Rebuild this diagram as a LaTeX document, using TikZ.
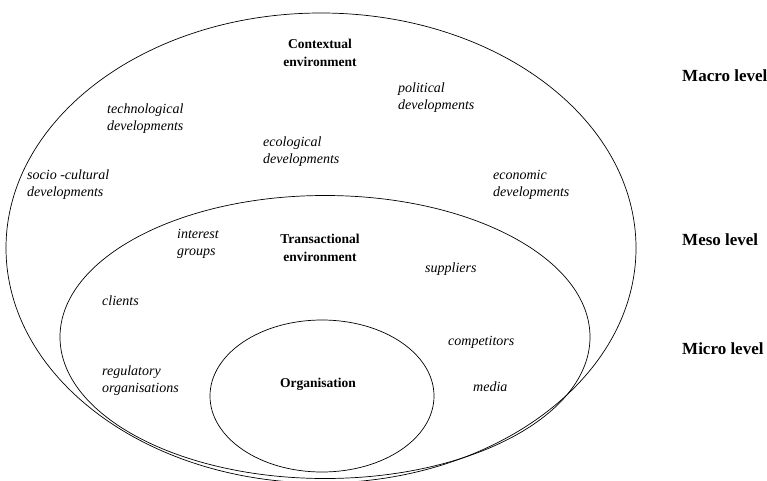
\documentclass[tikz,border=0pt]{standalone}
\usepackage{fontspec}
\setmainfont{Liberation Serif}
\begin{document}
\begin{tikzpicture}[x=1pt,y=-1pt]
    \tikzset{% This is the style settings for nodes
    env/.style={line width=0.7pt},
    factor/.style={anchor=west,align=left,inner sep=0pt,font=\fontsize{14}{17}\selectfont\itshape},
    title/.style={align=center,inner sep=0pt,font=\fontsize{13.5}{18.5}\selectfont\bfseries},
    lvl/.style={anchor=west,inner sep=0pt,font=\fontsize{17}{20}\selectfont\bfseries},
    }
    \useasboundingbox (0,0) rectangle (767,481);
    % Ellipses
    \draw[env] (321,248) ellipse (315 and 235);
    \draw[env] (325,337) ellipse (265 and 141.5);
    \draw[env] (322,396) ellipse (112 and 76);

    % Nodes
    \node[title] (ctx) at (320,53) {Contextual\\environment};
    \node[title] (trn) at (320,248) {Transactional\\environment};
    \node[title] (org) at (318,384) {Organisation};

    \node[factor] (tech) at (107,119) {technological\\developments};
    \node[factor] (eco) at (263,152) {ecological\\developments};
    \node[factor] (soc) at (27,185) {socio -cultural\\developments};
    \node[factor] (pol) at (398,98) {political\\developments};
    \node[factor] (econ) at (493,185) {economic\\developments};

    \node[factor] (intr) at (177,244) {interest\\groups};
    \node[factor] (cli) at (102,301) {clients};
    \node[factor] (reg) at (102,381) {regulatory\\organisations};
    \node[factor] (sup) at (425,269) {suppliers};
    \node[factor] (comp) at (448,342) {competitors};
    \node[factor] (med) at (473,387) {media};

    % Levels
    \node[lvl] (macro) at (682,76) {Macro level};
    \node[lvl] (meso) at (682,240) {Meso level};
    \node[lvl] (micro) at (682,349) {Micro level};
\end{tikzpicture}
\end{document}
